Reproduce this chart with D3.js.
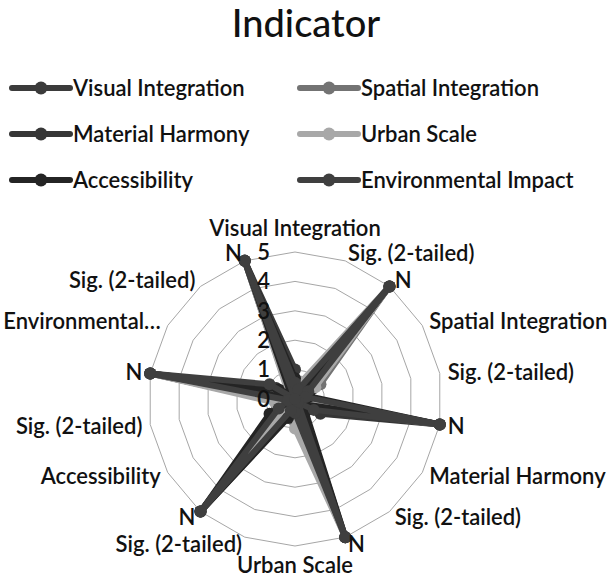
<!doctype html>
<html>
<head>
<meta charset="utf-8">
<title>Indicator</title>
<style>
  body { margin: 0; background: #fff; }
  text { font-family: Lato, "Open Sans", sans-serif; fill: #111; }
</style>
</head>
<body>
<svg width="613" height="579"></svg>
<script src="https://d3js.org/d3.v7.min.js"></script>
<script>

// axis categories, clockwise from the top
var axes = ["Visual Integration", "Sig. (2-tailed)", "N",
            "Spatial Integration", "Sig. (2-tailed)", "N",
            "Material Harmony", "Sig. (2-tailed)", "N",
            "Urban Scale", "Sig. (2-tailed)", "N",
            "Accessibility", "Sig. (2-tailed)", "N",
            "Environmental…", "Sig. (2-tailed)", "N"];

var seriesNames = ["Visual Integration", "Spatial Integration", "Material Harmony",
                   "Urban Scale", "Accessibility", "Environmental Impact"];

// values (r, Sig., N for each indicator row)
var visualIntegration   = [1.00, 0.00, 5, 0.62, 0.26, 5, 0.45, 0.45, 5, 0.30, 0.62, 5, 0.71, 0.18, 5, 0.55, 0.34, 5];
var spatialIntegration  = [0.62, 0.26, 5, 1.00, 0.00, 5, 0.68, 0.21, 5, 0.80, 0.10, 5, 0.40, 0.50, 5, 0.52, 0.37, 5];
var materialHarmony     = [0.45, 0.45, 5, 0.68, 0.21, 5, 1.00, 0.00, 5, 0.58, 0.31, 5, 0.35, 0.56, 5, 0.74, 0.15, 5];
var urbanScale          = [0.30, 0.62, 5, 0.80, 0.10, 5, 0.58, 0.31, 5, 1.00, 0.00, 5, 0.25, 0.69, 5, 0.47, 0.42, 5];
var accessibility       = [0.71, 0.18, 5, 0.40, 0.50, 5, 0.35, 0.56, 5, 0.25, 0.69, 5, 1.00, 0.00, 5, 0.64, 0.24, 5];
var environmentalImpact = [0.55, 0.34, 5, 0.52, 0.37, 5, 0.74, 0.15, 5, 0.47, 0.42, 5, 0.64, 0.24, 5, 1.00, 0.00, 5];

var ticks = [0, 1, 2, 3, 4, 5];
var colors = ["#3b3b3b", "#737373", "#363636", "#a8a8a8", "#242424", "#3f3f3f"];

var allSeries = [visualIntegration, spatialIntegration, materialHarmony,
                 urbanScale, accessibility, environmentalImpact];

var svg = d3.select("svg"),
    cx = 295, cy = 399;

var r = d3.scaleLinear().domain([0, 5]).range([0, 147]);
var angle = d3.scaleLinear().domain([0, axes.length]).range([0, 2 * Math.PI]);

// title
svg.append("text")
    .attr("x", 306).attr("y", 37)
    .attr("text-anchor", "middle")
    .style("font-size", "38px")
    .style("font-weight", 500)
    .text("Indicator");

// legend, two columns
var legend = svg.selectAll(".legend")
    .data(seriesNames)
  .enter().append("g")
    .attr("class", "legend")
    .attr("transform", function(d, i) {
      return "translate(" + (i % 2 ? 300 : 12) + "," + (88 + Math.floor(i / 2) * 46) + ")";
    });

legend.append("line")
    .attr("x1", 0).attr("x2", 58)
    .attr("stroke", function(d, i) { return colors[i]; })
    .attr("stroke-width", 6)
    .attr("stroke-linecap", "round");

legend.append("circle")
    .attr("cx", 29).attr("r", 6.5)
    .attr("fill", function(d, i) { return colors[i]; });

legend.append("text")
    .attr("x", 61).attr("dy", "0.35em")
    .style("font-size", "22px")
    .style("font-weight", 600)
    .text(function(d) { return d; });

var g = svg.append("g").attr("transform", "translate(" + cx + "," + cy + ")");

// grid polygons
function pt(i, v) {
  var a = angle(i);
  return [Math.sin(a) * r(v), -Math.cos(a) * r(v)];
}

g.selectAll(".grid")
    .data(ticks.slice(1))
  .enter().append("polygon")
    .attr("class", "grid")
    .attr("points", function(v) {
      return axes.map(function(d, i) { return pt(i, v).join(","); }).join(" ");
    })
    .attr("fill", "none")
    .attr("stroke", "#a6a6a6")
    .attr("stroke-width", 1);

// series
var line = d3.lineRadial()
    .angle(function(d, i) { return angle(i); })
    .radius(function(d) { return r(d); })
    .curve(d3.curveLinearClosed);

var s = g.selectAll(".series")
    .data(allSeries)
  .enter().append("g")
    .attr("class", "series");

s.append("path")
    .attr("d", line)
    .attr("fill", "none")
    .attr("stroke", function(d, i) { return colors[i]; })
    .attr("stroke-width", 6)
    .attr("stroke-linejoin", "round");

s.each(function(d, k) {
  d3.select(this).selectAll("circle")
      .data(d)
    .enter().append("circle")
      .attr("cx", function(v, i) { return pt(i, v)[0]; })
      .attr("cy", function(v, i) { return pt(i, v)[1]; })
      .attr("r", 6)
      .attr("fill", colors[k]);
});

// scale labels
g.selectAll(".tick")
    .data(ticks)
  .enter().append("text")
    .attr("class", "tick")
    .attr("x", -25)
    .attr("y", function(d) { return -r(d); })
    .attr("dy", "0.35em")
    .attr("text-anchor", "end")
    .style("font-size", "22px")
    .style("font-weight", 600)
    .text(function(d) { return d; });

// category labels
g.selectAll(".axis-label")
    .data(axes)
  .enter().append("text")
    .attr("class", "axis-label")
    .attr("x", function(d, i) { return Math.sin(angle(i)) * 155; })
    .attr("y", function(d, i) { return -Math.cos(angle(i)) * 155; })
    .attr("text-anchor", function(d, i) {
      var sn = Math.sin(angle(i));
      return Math.abs(sn) < 0.01 ? "middle" : (sn > 0 ? "start" : "end");
    })
    .attr("dy", function(d, i) {
      var a = angle(i);
      if (Math.abs(Math.sin(a)) < 0.01) return Math.cos(a) > 0 ? "-0.35em" : "0.85em";
      return "0.35em";
    })
    .style("font-size", "22px")
    .style("font-weight", 600)
    .text(function(d) { return d; });

</script>
</body>
</html>
